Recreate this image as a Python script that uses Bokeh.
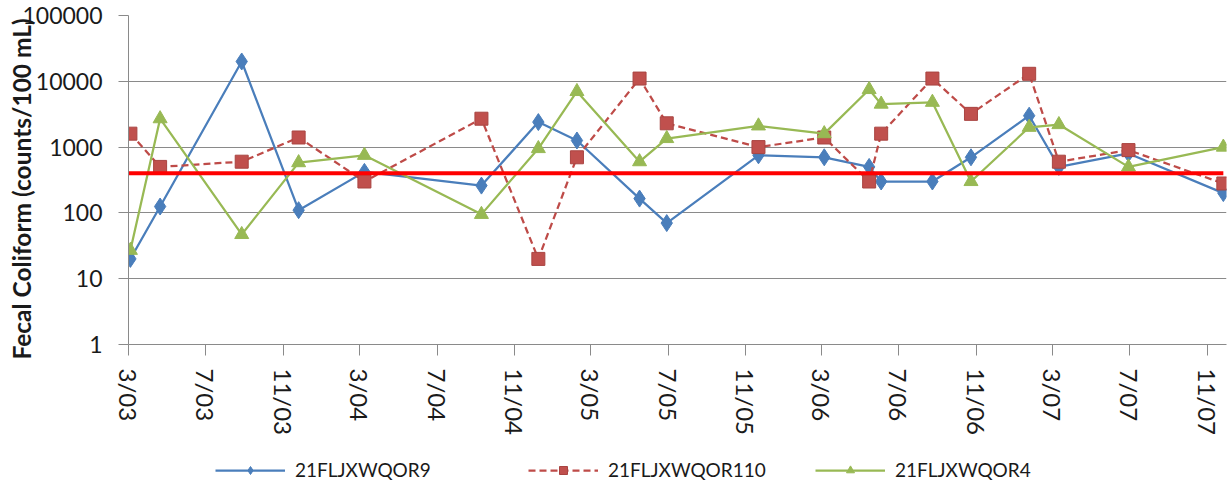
from datetime import datetime
import math
import pandas as pd
from bokeh.plotting import figure
from bokeh.layouts import column
from bokeh.models import (Range1d, FixedTicker, Legend, LegendItem, ColumnDataSource,
                          PrintfTickFormatter)
from bokeh.embed import file_html
from bokeh.resources import INLINE

# ---- data ----
sample_dates = ["2003-03-04", "2003-04-20", "2003-08-27", "2003-11-25", "2004-03-08",
                "2004-09-09", "2004-12-08", "2005-02-07", "2005-05-17", "2005-06-29",
                "2005-11-21", "2006-03-05", "2006-05-15", "2006-06-03", "2006-08-23",
                "2006-10-23", "2007-01-23", "2007-03-11", "2007-06-29", "2007-11-26"]
or9 = [20, 125, 20000, 110, 420, 260, 2400, 1260, 165, 70,
       750, 700, 500, 300, 300, 700, 3000, 500, 800, 200]
or110 = [1600, 500, 600, 1400, 300, 2700, 20, 700, 11000, 2300,
         1000, 1400, 300, 1600, 11000, 3200, 13000, 600, 900, 280]
or4 = [27, 2700, 47, 580, 750, 95, 950, 7000, 600, 1350,
       2100, 1600, 7500, 4500, 4800, 300, 2000, 2200, 500, 1000]
series_names = ["21FLJXWQOR9", "21FLJXWQOR110", "21FLJXWQOR4"]
criterion = 400
x_tick_labels = ["3/03", "7/03", "11/03", "3/04", "7/04", "11/04", "3/05", "7/05",
                 "11/05", "3/06", "7/06", "11/06", "3/07", "7/07", "11/07"]
y_ticks = [1, 10, 100, 1000, 10000, 100000]
x_start = "2003-03-01"
x_end = "2007-12-01"
y_title = "Fecal Coliform (counts/100 mL)"

dates = pd.to_datetime(sample_dates)
src = ColumnDataSource(dict(date=dates, or9=or9, or110=or110, or4=or4))


def label_to_ms(lbl):
    m, y = lbl.split("/")
    return pd.Timestamp(datetime(2000 + int(y), int(m), 1)).value / 1e6


x_ticks = [label_to_ms(l) for l in x_tick_labels]

p = figure(width=1228, height=448, x_axis_type="datetime", y_axis_type="log",
           x_range=Range1d(pd.Timestamp(x_start), pd.Timestamp(x_end)),
           y_range=Range1d(1, 100000), output_backend="svg", toolbar_location=None,
           min_border_left=128, min_border_right=2, min_border_top=15,
           min_border_bottom=104)
p.outline_line_color = None
p.background_fill_color = "white"

grid_col = "#8a8a8a"
text_col = "#1a1a1a"
p.xgrid.grid_line_color = None
p.ygrid.grid_line_color = grid_col
p.ygrid.grid_line_width = 1.2

# x axis
p.xaxis.ticker = FixedTicker(ticks=x_ticks)
p.xaxis.major_label_overrides = {t: l for t, l in zip(x_ticks, x_tick_labels)}
p.xaxis.major_label_orientation = -math.pi / 2
p.xaxis.axis_line_color = grid_col
p.xaxis.major_tick_line_color = grid_col
p.xaxis.major_tick_out = 11
p.xaxis.major_tick_in = 0
p.xaxis.minor_tick_line_color = None
p.xaxis.major_label_standoff = 13
p.xaxis.major_label_text_font = "Lato"
p.xaxis.major_label_text_font_size = "24px"
p.xaxis.major_label_text_color = text_col

# y axis
p.yaxis.ticker = FixedTicker(ticks=y_ticks)
p.yaxis.formatter = PrintfTickFormatter(format="%d")
p.yaxis.axis_line_color = grid_col
p.yaxis.major_tick_line_color = grid_col
p.yaxis.major_tick_out = 10
p.yaxis.major_tick_in = 0
p.yaxis.minor_tick_line_color = None
p.yaxis.major_label_standoff = 16
p.yaxis.major_label_text_font = "Lato"
p.yaxis.major_label_text_font_size = "23px"
p.yaxis.major_label_text_color = text_col
p.yaxis.axis_label = y_title + "\u00a0" * 3
p.yaxis.axis_label_text_font = "Lato"
p.yaxis.axis_label_text_font_style = "bold"
p.yaxis.axis_label_text_font_size = "24.5px"
p.yaxis.axis_label_text_color = text_col
p.yaxis.axis_label_standoff = -17

blue, red, green = "#4A7EBB", "#BE4B48", "#98B954"
red_fill, red_edge = "#C0504D", "#A94441"

line_styles = [dict(line_color=blue, line_width=2.25),
               dict(line_color=red, line_width=2.25, line_dash="7 4"),
               dict(line_color=green, line_width=2.25)]
marker_styles = [dict(marker="diamond", size=17, fill_color=blue, line_color=blue),
                 dict(marker="square", size=13, fill_color=red_fill, line_color=red_edge),
                 dict(marker="triangle", size=14, fill_color=green, line_color=green)]
cols = ["or9", "or110", "or4"]

for c, ls, ms in zip(cols, line_styles, marker_styles):
    p.line("date", c, source=src, **ls)
    p.scatter("date", c, source=src, **ms)

p.line([pd.Timestamp(x_start), dates[-1]], [criterion, criterion],
       line_color="#FF0000", line_width=4)

# ---- legend strip below the chart (its frame is aligned with the chart's) ----
lf = figure(width=1228, height=43, output_backend="svg", toolbar_location=None,
            x_range=Range1d(0, 1), y_range=Range1d(0, 1),
            x_axis_location=None, y_axis_location=None, min_border=0)
lf.grid.visible = False
lf.outline_line_color = None
legend_x = [87, 400, 687]
for name, ls, ms, lx in zip(series_names, line_styles, marker_styles, legend_x):
    # one point far outside the visible range: only the legend glyph shows
    r1 = lf.line(x=[-10, -9], y=[-10, -10], **ls)
    r2 = lf.scatter(x=[-10], y=[-10], **ms)
    lg = Legend(items=[LegendItem(label=name, renderers=[r1, r2])],
                orientation="horizontal", location=(lx, 10),
                glyph_width=70, glyph_height=20, label_standoff=10,
                padding=0, margin=0, border_line_color=None,
                background_fill_alpha=0,
                label_text_font="Lato", label_text_font_size="19px",
                label_text_color=text_col)
    lf.add_layout(lg, "center")

open("out.html", "w").write(file_html(column(p, lf, spacing=0), INLINE))
